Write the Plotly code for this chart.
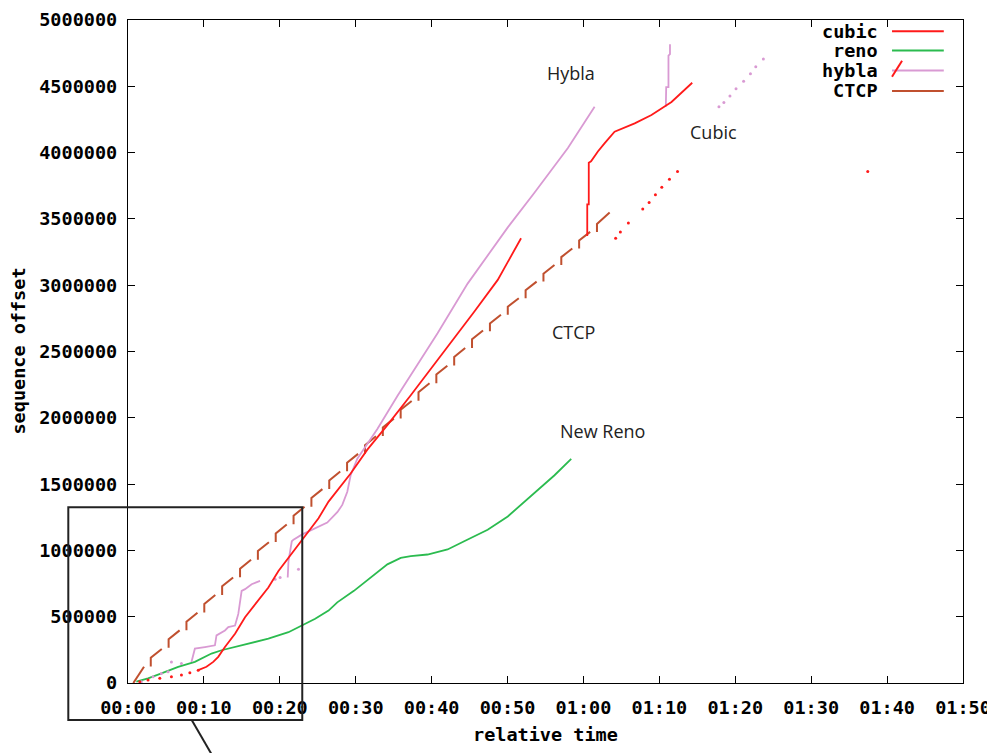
import plotly.graph_objects as go

# ---------------- data (time in seconds, sequence offset in bytes) ----------------
x_tick_vals = [0, 10, 20, 30, 40, 50, 60, 70, 80, 90, 100, 110]
x_tick_text = ["00:00", "00:10", "00:20", "00:30", "00:40", "00:50",
               "01:00", "01:10", "01:20", "01:30", "01:40", "01:50"]
y_tick_vals = [0, 500000, 1000000, 1500000, 2000000, 2500000, 3000000,
               3500000, 4000000, 4500000, 5000000]

# cubic: sparse dots at start, then solid line
cubic_dot_t = [1.55, 2.64, 4.19, 5.72, 7.04, 8.15, 9.25]
cubic_dot_v = [10e3, 22e3, 35e3, 47e3, 60e3, 77e3, 97e3]
cubic_t1 = [9.25, 10.34, 11.23, 11.89, 12.77, 14.10, 15.42, 16.74, 18.49, 19.82,
            21.14, 22.46, 23.78, 25.10, 26.42, 29.33, 31.53, 34.17, 37.25, 40.33,
            42.76, 45.61, 48.71, 51.78]
cubic_v1 = [97e3, 122e3, 159e3, 197e3, 271e3, 371e3, 496e3, 596e3, 720e3, 845e3,
            944e3, 1044e3, 1144e3, 1243e3, 1368e3, 1580e3, 1760e3, 1945e3, 2170e3,
            2400e3, 2580e3, 2800e3, 3040e3, 3354e3]
cubic_t2 = [60.5, 60.5, 60.7, 60.7, 61.0, 61.9, 62.8, 64.1, 66.75, 68.96, 70.94,
            71.6, 74.33]
cubic_v2 = [3371e3, 3610e3, 3610e3, 3923e3, 3934e3, 4008e3, 4071e3, 4158e3,
            4220e3, 4283e3, 4357e3, 4382e3, 4527e3]
cubic_tail_t = [64.24, 64.86, 65.92, 67.81, 68.65, 69.48, 70.32, 71.33, 72.39, 97.45]
cubic_tail_v = [3354e3, 3401e3, 3470e3, 3575e3, 3623e3, 3682e3, 3739e3, 3799e3,
                3857e3, 3857e3]

# reno (New Reno)
reno_t = [1.10, 2.64, 4.40, 6.61, 8.81, 11.00, 12.33, 14.10, 15.85, 18.49, 21.14,
          22.89, 24.66, 26.42, 27.57, 29.76, 31.97, 34.17, 35.93, 37.25, 39.46,
          42.10, 44.29, 47.38, 50.03, 51.78, 53.54, 56.19, 58.39]
reno_v = [10e3, 35e3, 72e3, 122e3, 159e3, 222e3, 247e3, 271e3, 297e3, 334e3, 383e3,
          433e3, 484e3, 546e3, 608e3, 695e3, 794e3, 895e3, 944e3, 957e3, 969e3,
          1007e3, 1069e3, 1156e3, 1256e3, 1343e3, 1430e3, 1567e3, 1691e3]

# hybla
hybla_dot_t = [1.76, 3.30, 4.40, 5.28, 5.72, 7.04, 19.38, 20.04, 22.46,
               77.85, 78.5, 79.3, 80.1, 81.1, 82.0, 82.7, 83.7]
hybla_dot_v = [10e3, 47e3, 72e3, 84e3, 159e3, 147e3, 782e3, 795e3, 857e3,
               4345e3, 4377e3, 4427e3, 4482e3, 4539e3, 4594e3, 4647e3, 4706e3]
hybla_t1 = [8.36, 8.81, 10.13, 11.45, 11.66, 12.77, 13.21, 14.10, 14.53, 14.97,
            15.42, 16.29, 17.40]
hybla_v1 = [159e3, 259e3, 271e3, 284e3, 359e3, 396e3, 421e3, 433e3, 521e3, 695e3,
            708e3, 745e3, 770e3]
hybla_t2 = [21.04, 21.14, 21.58, 21.80, 22.89, 24.66, 26.25, 27.6, 28.23, 28.89,
            29.33, 30.21, 31.08, 32.85, 35.49, 38.14, 40.78, 44.74, 47.82, 50.03,
            53.54, 57.95, 61.47]
hybla_v2 = [795e3, 919e3, 1069e3, 1081e3, 1119e3, 1168e3, 1210e3, 1290e3, 1343e3,
            1442e3, 1567e3, 1691e3, 1766e3, 1916e3, 2165e3, 2401e3, 2638e3, 3012e3,
            3261e3, 3436e3, 3697e3, 4034e3, 4345e3]
hybla_t3 = [70.85, 70.9, 71.2, 71.2, 71.4, 71.4]
hybla_v3 = [4345e3, 4494e3, 4494e3, 4731e3, 4743e3, 4818e3]

# CTCP: sawtooth dashes (step time, value before step, after step, dash end)
ctcp_first_t = [0.70, 2.11]
ctcp_first_v = [0.0, 122e3]
ctcp_t = [3.00, 5.35, 7.70, 10.05, 12.40, 14.76, 17.11, 19.46, 21.81, 24.16, 26.51,
          28.86, 31.22, 33.57, 35.92, 38.27, 40.62, 42.97, 45.32, 47.68, 50.03,
          52.38, 54.73, 57.08, 59.43, 61.78]
ctcp_low = [125e3, 265e3, 398e3, 531e3, 664e3, 797e3, 930e3, 1063e3, 1197e3, 1330e3,
            1463e3, 1596e3, 1729e3, 1862e3, 1995e3, 2128e3, 2261e3, 2394e3, 2527e3,
            2652e3, 2777e3, 2902e3, 3027e3, 3152e3, 3277e3, 3402e3]
ctcp_high = [190e3, 330e3, 463e3, 596e3, 729e3, 862e3, 995e3, 1128e3, 1262e3, 1395e3,
             1528e3, 1661e3, 1794e3, 1927e3, 2060e3, 2193e3, 2326e3, 2459e3, 2592e3,
             2712e3, 2837e3, 2962e3, 3087e3, 3212e3, 3337e3, 3462e3]
ctcp_end_t = [4.45, 6.80, 9.15, 11.50, 13.85, 16.21, 18.56, 20.91, 23.26, 25.61,
              27.96, 30.31, 32.67, 35.02, 37.37, 39.72, 42.07, 44.42, 46.77, 49.13,
              51.48, 53.83, 56.18, 58.53, 60.88, 63.45]
ctcp_end_v = [257e3, 397e3, 530e3, 663e3, 796e3, 929e3, 1062e3, 1195e3, 1329e3,
              1462e3, 1595e3, 1728e3, 1861e3, 1994e3, 2127e3, 2260e3, 2393e3, 2526e3,
              2659e3, 2777e3, 2902e3, 3027e3, 3152e3, 3277e3, 3402e3, 3548e3]

legend_names = ["cubic", "reno", "hybla", "CTCP"]

# ---------------- styles ----------------
C_CUBIC = "#ff1a1a"
C_RENO = "#2bbb4f"
C_HYBLA = "#d99ad3"
C_CTCP = "#c0502f"
MONO = "DejaVu Sans Mono"
MONO_SIZE = 18.5


def join(*segs):
    xs, ys = [], []
    for sx, sy in segs:
        if xs:
            xs.append(None)
            ys.append(None)
        xs.extend(sx)
        ys.extend(sy)
    return xs, ys


fig = go.Figure()

# CTCP
segs = [(ctcp_first_t, ctcp_first_v)]
for t, lo, hi, te, ve in zip(ctcp_t, ctcp_low, ctcp_high, ctcp_end_t, ctcp_end_v):
    segs.append(([t, t, te], [lo, hi, ve]))
cx, cy = join(*segs)
fig.add_trace(go.Scatter(x=cx, y=cy, mode="lines", name="CTCP",
                         line=dict(color=C_CTCP, width=2), connectgaps=False))

# reno
fig.add_trace(go.Scatter(x=reno_t, y=reno_v, mode="lines", name="reno",
                         line=dict(color=C_RENO, width=1.8)))

# hybla
hx, hy = join((hybla_t1, hybla_v1), (hybla_t2, hybla_v2), (hybla_t3, hybla_v3))
fig.add_trace(go.Scatter(x=hx, y=hy, mode="lines", name="hybla",
                         line=dict(color=C_HYBLA, width=1.8)))
fig.add_trace(go.Scatter(x=hybla_dot_t, y=hybla_dot_v, mode="markers", name="hybla",
                         marker=dict(color=C_HYBLA, size=3), showlegend=False))

# cubic
ux, uy = join((cubic_t1, cubic_v1), (cubic_t2, cubic_v2))
fig.add_trace(go.Scatter(x=ux, y=uy, mode="lines", name="cubic",
                         line=dict(color=C_CUBIC, width=1.8)))
fig.add_trace(go.Scatter(x=cubic_dot_t + cubic_tail_t, y=cubic_dot_v + cubic_tail_v,
                         mode="markers", name="cubic",
                         marker=dict(color=C_CUBIC, size=3), showlegend=False))

axis_common = dict(showline=True, linecolor="black", linewidth=1.2, mirror="ticks",
                   ticks="inside", ticklen=7, tickcolor="black", tickwidth=1.2,
                   showgrid=False, zeroline=False, automargin=False,
                   ticklabeloverflow="allow",
                   tickfont=dict(family=MONO, size=MONO_SIZE, color="black",
                                 weight="bold"))

fig.update_layout(
    width=987, height=745,
    margin=dict(l=120, r=32, t=12, b=70),
    paper_bgcolor="white", plot_bgcolor="white",
    showlegend=False,
    xaxis=dict(range=[0, 110], tickvals=x_tick_vals, ticktext=x_tick_text,
               ticklabelstandoff=8, **axis_common),
    yaxis=dict(range=[0, 5000000], tickvals=y_tick_vals, tickformat="d",
               ticklabelstandoff=6, **axis_common),
)

# axis titles
fig.add_annotation(x=0.5004, y=-0.0784, xref="paper", yref="paper", showarrow=False,
                   text="relative time", xanchor="center", yanchor="middle",
                   font=dict(family=MONO, size=MONO_SIZE, color="black",
                             weight="bold"))
fig.add_annotation(x=-0.1317, y=0.5, xref="paper", yref="paper", showarrow=False,
                   text="sequence offset", textangle=-90, xanchor="center",
                   yanchor="middle",
                   font=dict(family=MONO, size=MONO_SIZE, color="black",
                             weight="bold"))

# manual legend (text then line sample, as in the original)
legend_colors = [C_CUBIC, C_RENO, C_HYBLA, C_CTCP]
legend_y = [0.983, 0.954, 0.924, 0.893]
for name, col, ly in zip(legend_names, legend_colors, legend_y):
    fig.add_annotation(x=0.9006, y=ly, xref="paper", yref="paper", showarrow=False,
                       text=name, xanchor="right", yanchor="middle",
                       font=dict(family=MONO, size=MONO_SIZE, color="black",
                                 weight="bold"))
    fig.add_shape(type="line", xref="paper", yref="paper", x0=0.915, x1=0.977,
                  y0=ly, y1=ly, line=dict(color=col, width=2))
fig.add_shape(type="line", xref="paper", yref="paper", x0=0.9150, x1=0.9270,
              y0=0.9145, y1=0.9386, line=dict(color=C_CUBIC, width=2))

# curve labels
for txt, tx, ty in [("Hybla", 58.4, 4.60e6), ("Cubic", 77.1, 4.155e6),
                    ("CTCP", 58.65, 2.646e6), ("New Reno", 62.5, 1.898e6)]:
    fig.add_annotation(x=tx, y=ty, xref="x", yref="y", showarrow=False, text=txt,
                       xanchor="center", yanchor="middle",
                       font=dict(family="Open Sans", size=18, color="#222222"))

# zoom-in box and pointer
fig.add_shape(type="rect", xref="paper", yref="paper", x0=-0.0715, x1=0.2087,
              y0=-0.0558, y1=0.2650, line=dict(color="#222222", width=2),
              fillcolor="rgba(0,0,0,0)")
fig.add_shape(type="line", xref="paper", yref="paper", x0=0.0763, y0=-0.0558,
              x1=0.1020, y1=-0.1116, line=dict(color="#222222", width=2))

fig.write_html("out.html")
